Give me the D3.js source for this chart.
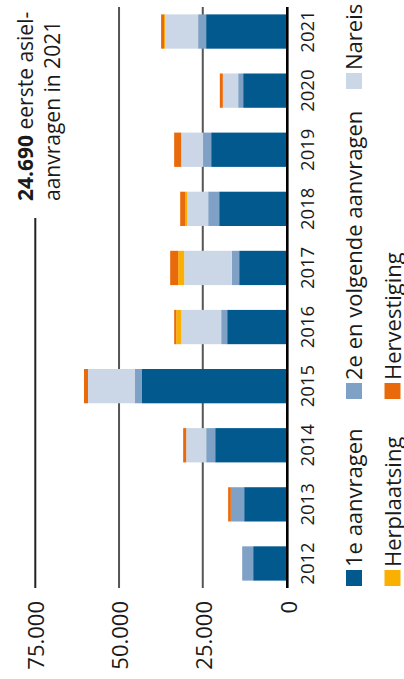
<!DOCTYPE html>
<html>
<head>
<meta charset="utf-8">
<script src="https://cdn.jsdelivr.net/npm/d3@7"></script>
<style>
  html, body { margin: 0; padding: 0; background: #fff; }
  svg { display: block; font-family: "Open Sans", "Noto Sans", sans-serif; }
</style>
</head>
<body>
<svg id="chart" width="404" height="679"></svg>
<script>
// ---- data ----
const years = ["2012","2013","2014","2015","2016","2017","2018","2019","2020","2021"];
const eersteAanvragen = [9950, 12640, 21290, 43150, 17710, 14130, 20100, 22490, 12940, 24000];
const tweedeAanvragen = [3280, 3980, 2690, 2090, 1790, 2190, 3280, 2390, 1490, 2390];
const nareis          = [0, 0, 5970, 14030, 11940, 14230, 6270, 6570, 4580, 9850];
const herplaatsing    = [0, 0, 0, 0, 1490, 1790, 600, 0, 0, 300];
const hervestiging    = [0, 800, 900, 1190, 600, 2390, 1490, 2090, 900, 900];
const seriesNames = ["1e aanvragen", "2e en volgende aanvragen", "Nareis", "Herplaatsing", "Hervestiging"];
const valueTicks = [0, 25000, 50000, 75000];
const annotationBold = "24.690";
const annotationLine1 = " eerste asiel-";
const annotationLine2 = "aanvragen in 2021";

const colors = ["#01598e", "#7fa1c5", "#cbd6e7", "#f9b000", "#e96a0a"];
const W = 404, H = 679;

const svg = d3.select("#chart");
// whole chart is drawn as a normal column chart, rotated -90deg
const g = svg.append("g").attr("transform", `translate(0,${H}) rotate(-90)`);
// local x = H - screenY ; local y = screenX

const table = years.map((y, i) => ({
  year: y,
  [seriesNames[0]]: eersteAanvragen[i],
  [seriesNames[1]]: tweedeAanvragen[i],
  [seriesNames[2]]: nareis[i],
  [seriesNames[3]]: herplaatsing[i],
  [seriesNames[4]]: hervestiging[i]
}));
const stacked = d3.stack().keys(seriesNames)(table);

const x = d3.scaleBand().domain(years).range([91, 672]).paddingInner(0.42).paddingOuter(0.125);
const y = d3.scaleLinear().domain([0, 75000]).range([286.5, 35.3]);
const color = d3.scaleOrdinal().domain(seriesNames).range(colors);

const fmt = v => d3.format(",")(v).replace(/,/g, ".");

// gridlines
const grid = g.append("g");
grid.selectAll("line.grid")
  .data(valueTicks.filter(d => d > 0))
  .join("line")
  .attr("class", "grid")
  .attr("x1", 91)
  .attr("x2", d => d === 75000 ? H - 218 : 672)
  .attr("y1", d => y(d)).attr("y2", d => y(d))
  .attr("stroke", d => d === 75000 ? "#222" : "#555")
  .attr("stroke-width", 2);

// bars
g.append("g").selectAll("g")
  .data(stacked)
  .join("g")
  .attr("fill", d => color(d.key))
  .selectAll("rect")
  .data(d => d)
  .join("rect")
  .attr("x", d => x(d.data.year))
  .attr("width", x.bandwidth())
  .attr("y", d => y(d[1]))
  .attr("height", d => Math.max(0, y(d[0]) - y(d[1])));

// zero baseline
g.append("line")
  .attr("x1", 91).attr("x2", 672)
  .attr("y1", y(0) + 0.8).attr("y2", y(0) + 0.8)
  .attr("stroke", "#000").attr("stroke-width", 2.6);

// value tick labels
g.append("g").selectAll("text")
  .data(valueTicks)
  .join("text")
  .attr("x", 78)
  .attr("y", d => y(d) + (d === 0 ? 1 : 0))
  .attr("text-anchor", "end")
  .attr("dominant-baseline", "central")
  .attr("font-size", 22)
  .attr("fill", "#1a1a1a")
  .text(d => fmt(d));

// year labels
g.append("g").selectAll("text")
  .data(years)
  .join("text")
  .attr("x", d => x(d) + x.bandwidth() / 2)
  .attr("y", 313.5)
  .attr("text-anchor", "middle")
  .attr("font-size", 18.5)
  .attr("fill", "#1a1a1a")
  .text(d => d);

// legend
const legendPos = [
  { lx: 93, ly: 346 }, { lx: 280, ly: 346 }, { lx: 590, ly: 346 },
  { lx: 93, ly: 384.5 }, { lx: 280, ly: 384.5 }
];
const leg = g.append("g").selectAll("g")
  .data(seriesNames)
  .join("g")
  .attr("transform", (d, i) => `translate(${legendPos[i].lx},${legendPos[i].ly})`);
leg.append("rect")
  .attr("width", 16).attr("height", 16)
  .attr("fill", d => color(d));
leg.append("text")
  .attr("x", 19)
  .attr("y", 16.3)
  .attr("font-size", 22)
  .attr("fill", "#1a1a1a")
  .text(d => d);

// annotation
const ann = g.append("text")
  .attr("x", H - 201)
  .attr("y", 33.3)
  .attr("font-size", 21)
  .attr("fill", "#1a1a1a");
ann.append("tspan").attr("font-weight", "bold").text(annotationBold);
ann.append("tspan").text(annotationLine1);
g.append("text")
  .attr("x", H - 201)
  .attr("y", 59.5)
  .attr("font-size", 21)
  .attr("fill", "#1a1a1a")
  .text(annotationLine2);
</script>
</body>
</html>
